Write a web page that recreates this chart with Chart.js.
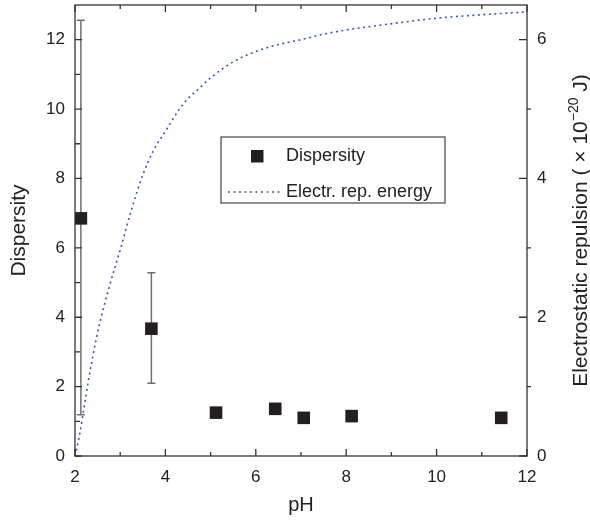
<!DOCTYPE html>
<html>
<head>
<meta charset="utf-8">
<script src="https://cdn.jsdelivr.net/npm/chart.js@4/dist/chart.umd.min.js"></script>
<style>
  html, body { margin: 0; padding: 0; background: #fff; }
</style>
</head>
<body>
<canvas id="chart" width="590" height="520"></canvas>
<script>
// measured dispersity points (pH, value) with error bars where visible
const phPoints   = [2.13, 3.69, 5.12, 6.43, 7.06, 8.12, 11.43];
const dispersity = [6.85, 3.67, 1.25, 1.36, 1.10, 1.15, 1.10];
const errLow     = [1.19, 2.10, null, null, null, null, null];
const errHigh    = [12.56, 5.28, null, null, null, null, null];

// electrostatic repulsion energy curve (right axis, x 10^-20 J)
const curvePh     = [2.0, 2.1, 2.2, 2.3, 2.5, 2.75, 3.0, 3.25, 3.5, 3.75, 4.0, 4.3, 4.5, 4.75, 5.0, 5.5, 6.0, 6.5, 7.0, 7.5, 8.0, 9.0, 10.0, 11.0, 12.0];
const curveEnergy = [0.0, 0.30, 0.70, 1.10, 1.78, 2.42, 2.97, 3.55, 4.05, 4.42, 4.68, 4.99, 5.15, 5.30, 5.45, 5.68, 5.83, 5.93, 6.00, 6.08, 6.14, 6.23, 6.31, 6.36, 6.40];

// ticks
const xTicks  = [2, 4, 6, 8, 10, 12];
const xMinor  = [3, 5, 7, 9, 11];
const yTicks  = [0, 2, 4, 6, 8, 10, 12];
const yMinor  = [1, 3, 5, 7, 9, 11];
const y2Ticks = [0, 2, 4, 6];
const y2Minor = [1, 3, 5];

const FONT = '"Liberation Sans", Arial, Helvetica, sans-serif';
const INK = '#222';
const CURVE_COLOR = '#3b55b4';
const SQUARE_COLOR = '#231f20';

Chart.defaults.font.family = FONT;
Chart.defaults.color = INK;

const setTicks = list => scale => { scale.ticks = list.map(v => ({ value: v })); };

// error bars under the squares
const errorBars = {
  id: 'errorBars',
  beforeDatasetsDraw(chart) {
    const { ctx, scales: { x, y } } = chart;
    ctx.save();
    ctx.strokeStyle = '#707070';
    ctx.lineWidth = 1.5;
    phPoints.forEach((p, i) => {
      if (errLow[i] == null) return;
      const px = x.getPixelForValue(p);
      const lo = y.getPixelForValue(errLow[i]);
      const hi = y.getPixelForValue(errHigh[i]);
      ctx.beginPath();
      ctx.moveTo(px, lo); ctx.lineTo(px, hi);
      ctx.moveTo(px - 4, lo); ctx.lineTo(px + 4, lo);
      ctx.moveTo(px - 4, hi); ctx.lineTo(px + 4, hi);
      ctx.stroke();
    });
    ctx.restore();
  }
};

// box frame, inward ticks, legend box and the right axis title
const frameAndLegend = {
  id: 'frameAndLegend',
  afterDraw(chart) {
    const { ctx, chartArea: a, scales: { x, y, y2 } } = chart;
    ctx.save();
    ctx.strokeStyle = '#333';
    ctx.lineWidth = 1.3;
    ctx.strokeRect(a.left, a.top, a.right - a.left, a.bottom - a.top);

    ctx.beginPath();
    const seg = (x1, y1, x2, y2_) => { ctx.moveTo(x1, y1); ctx.lineTo(x2, y2_); };
    xTicks.forEach(v => { const p = x.getPixelForValue(v); seg(p, a.bottom, p, a.bottom - 7); seg(p, a.top, p, a.top + 7); });
    xMinor.forEach(v => { const p = x.getPixelForValue(v); seg(p, a.bottom, p, a.bottom - 4); seg(p, a.top, p, a.top + 4); });
    yTicks.forEach(v => { const p = y.getPixelForValue(v); seg(a.left, p, a.left + 7, p); });
    yMinor.forEach(v => { const p = y.getPixelForValue(v); seg(a.left, p, a.left + 5, p); });
    y2Ticks.forEach(v => { const p = y2.getPixelForValue(v); seg(a.right, p, a.right - 8, p); });
    y2Minor.forEach(v => { const p = y2.getPixelForValue(v); seg(a.right, p, a.right + 4, p); });
    ctx.stroke();

    // legend
    const bx = a.left + 146, by = a.top + 132, bw = 224, bh = 66;
    ctx.fillStyle = '#fff';
    ctx.fillRect(bx, by, bw, bh);
    ctx.strokeStyle = '#444';
    ctx.lineWidth = 1.2;
    ctx.strokeRect(bx, by, bw, bh);
    ctx.fillStyle = SQUARE_COLOR;
    ctx.fillRect(bx + 30, by + 13, 12.5, 12.5);
    ctx.beginPath();
    ctx.strokeStyle = CURVE_COLOR;
    ctx.lineWidth = 1.6;
    ctx.setLineDash([2, 3.5]);
    ctx.moveTo(bx + 7, by + 55); ctx.lineTo(bx + 60, by + 55);
    ctx.stroke();
    ctx.setLineDash([]);
    ctx.fillStyle = INK;
    ctx.font = '18px ' + FONT;
    ctx.textBaseline = 'middle';
    ctx.textAlign = 'left';
    ctx.fillText('Dispersity', bx + 65, by + 19);
    ctx.fillText('Electr. rep. energy', bx + 65, by + 55);

    // right axis title with superscript
    const cy = (a.top + a.bottom) / 2;
    ctx.translate(587, cy);
    ctx.rotate(-Math.PI / 2);
    ctx.textBaseline = 'alphabetic';
    const big = '21px ' + FONT, small = '14px ' + FONT;
    const parts = [
      { t: 'Electrostatic repulsion ( \u00d7 10', f: big, dy: 0 },
      { t: '\u221220', f: small, dy: -9 },
      { t: ' J)', f: big, dy: 0 }
    ];
    let total = 0;
    parts.forEach(p => { ctx.font = p.f; p.w = ctx.measureText(p.t).width; total += p.w; });
    let cx = -total / 2;
    parts.forEach(p => { ctx.font = p.f; ctx.fillText(p.t, cx, p.dy); cx += p.w; });
    ctx.restore();
  }
};

// fixed axis sizes, no extra label padding around the plot area
const noPad = () => ({ left: 0, top: 0, right: 0, bottom: 0 });
const fixSize = (dim, v) => s => {
  s[dim] = v;
  s.paddingTop = s.paddingBottom = s.paddingLeft = s.paddingRight = 0;
  s.getPadding = noPad;
};

new Chart(document.getElementById('chart'), {
  type: 'scatter',
  data: {
    datasets: [
      {
        label: 'Dispersity',
        data: phPoints.map((p, i) => ({ x: p, y: dispersity[i] })),
        yAxisID: 'y',
        pointStyle: 'rect',
        pointRadius: 8.9,
        pointHoverRadius: 8.9,
        backgroundColor: SQUARE_COLOR,
        borderWidth: 0,
        order: 1
      },
      {
        label: 'Electr. rep. energy',
        data: curvePh.map((p, i) => ({ x: p, y: curveEnergy[i] })),
        yAxisID: 'y2',
        showLine: true,
        pointRadius: 0,
        borderColor: CURVE_COLOR,
        borderWidth: 1.6,
        borderDash: [2, 3.5],
        cubicInterpolationMode: 'monotone',
        fill: false,
        order: 2
      }
    ]
  },
  options: {
    responsive: false,
    animation: false,
    devicePixelRatio: 1,
    layout: { autoPadding: false, padding: { top: 5, left: 0, right: 0, bottom: 0 } },
    plugins: { legend: { display: false }, tooltip: { enabled: false } },
    scales: {
      x: {
        type: 'linear', min: 2, max: 12,
        afterBuildTicks: setTicks(xTicks),
        afterFit: fixSize('height', 64),
        grid: { display: false, drawTicks: false },
        border: { display: false },
        ticks: { font: { size: 17 }, padding: 11, maxRotation: 0, autoSkip: false, color: INK },
        title: { display: true, text: 'pH', font: { size: 20 }, padding: { top: 0, bottom: 3 }, color: INK }
      },
      y: {
        position: 'left', min: 0, max: 13,
        afterBuildTicks: setTicks(yTicks),
        afterFit: fixSize('width', 75),
        grid: { display: false, drawTicks: false },
        border: { display: false },
        ticks: { font: { size: 17 }, padding: 10, color: INK },
        title: { display: true, text: 'Dispersity', font: { size: 21 }, padding: { top: 7, bottom: 0 }, color: INK }
      },
      y2: {
        position: 'right', min: 0, max: 6.5,
        afterBuildTicks: setTicks(y2Ticks),
        afterFit: fixSize('width', 63),
        grid: { display: false, drawTicks: false },
        border: { display: false },
        ticks: { font: { size: 17 }, padding: 10, color: INK }
      }
    }
  },
  plugins: [errorBars, frameAndLegend]
});
</script>
</body>
</html>
